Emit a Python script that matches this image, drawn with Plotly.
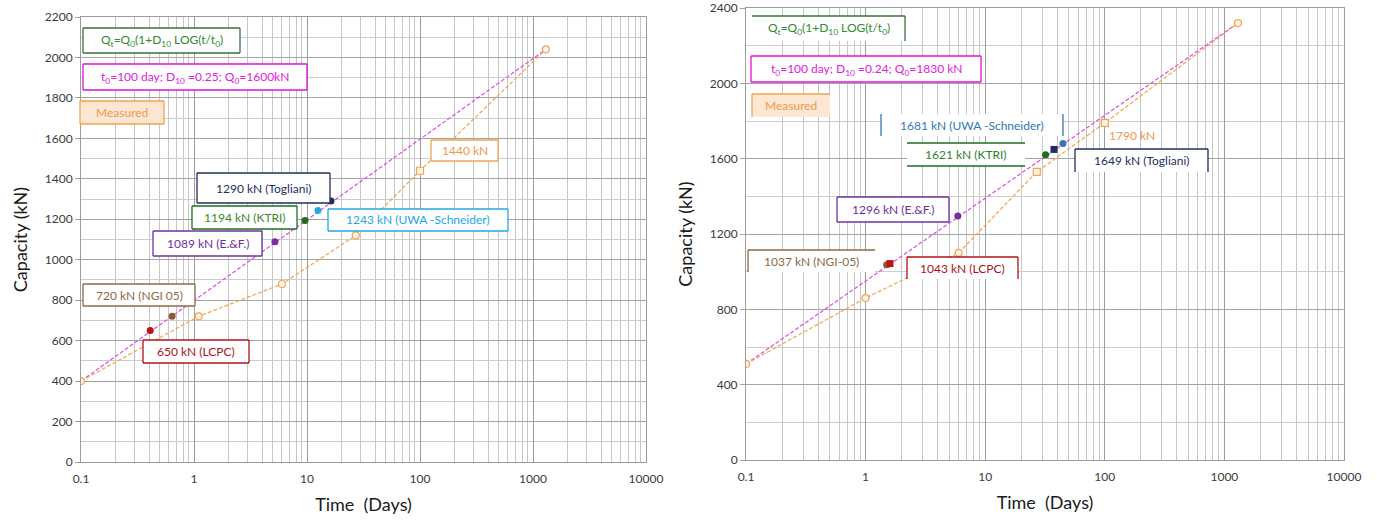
import plotly.graph_objects as go

W, H = 1377, 521

# ---------------- data ----------------
tick_vals = [0.1, 1, 10, 100, 1000, 10000]
tick_text = ["0.1", "1", "10", "100", "1000", "10000"]

# left chart
L_meas_t = [0.1, 1.1, 6, 27, 100, 1300]
L_meas_q = [400, 720, 880, 1120, 1440, 2040]
L_fit_t = [0.1, 1300]
L_fit_q = [400, 2040]
L_methods = ["LCPC", "NGI 05", "E.&F.", "KTRI", "UWA -Schneider", "Togliani"]
L_method_t = [0.41, 0.64, 5.2, 9.6, 12.5, 16.3]
L_method_q = [650, 720, 1089, 1194, 1243, 1290]
L_formula = "Q<sub>t</sub>=Q<sub>0</sub>(1+D<sub>10</sub> LOG(t/t<sub>0</sub>)"
L_params = "t<sub>0</sub>=100 day; D<sub>10</sub> =0.25; Q<sub>0</sub>=1600kN"

# right chart
R_meas_t = [0.1, 1, 6, 27, 100, 1300]
R_meas_q = [510, 860, 1100, 1530, 1790, 2320]
R_fit_t = [0.1, 1300]
R_fit_q = [510, 2320]
R_methods = ["NGI-05", "LCPC", "E.&F.", "KTRI", "Togliani", "UWA -Schneider"]
R_method_t = [1.5, 1.6, 5.9, 32, 37.6, 44.7]
R_method_q = [1037, 1043, 1296, 1621, 1649, 1681]
R_formula = "Q<sub>t</sub>=Q<sub>0</sub>(1+D<sub>10</sub> LOG(t/t<sub>0</sub>)"
R_params = "t<sub>0</sub>=100 day; D<sub>10</sub> =0.24; Q<sub>0</sub>=1830 kN"

# ---------------- styles ----------------
FONT = "Lato"
PINK = "#E24CE2"
ORANGE = "#F2A552"
ORANGE_TXT = "#EE9A50"
method_color = {
    "LCPC": "#C0101A", "NGI 05": "#8E5A34", "NGI-05": "#8E5A34",
    "E.&F.": "#7030A0", "KTRI": "#1E6E1E",
    "Togliani": "#1F2E5C",
}
uwa_color = {"L": "#22A6E6", "R": "#2E78B8"}
method_symbol_R = {"LCPC": "square", "Togliani": "square"}

fig = go.Figure()

def add_panel(xa, ya, mt, mq, ft, fq, methods, m_t, m_q, side):
    fig.add_trace(go.Scatter(x=ft, y=fq, mode="lines", xaxis=xa, yaxis=ya,
                             line=dict(color=PINK, width=1.2, dash="4px,2px"),
                             hoverinfo="skip"))
    sym = ["square" if t == 100 or (side == "R" and t == 27) else "circle" for t in mt]
    fig.add_trace(go.Scatter(x=mt, y=mq, mode="lines+markers", xaxis=xa, yaxis=ya,
                             line=dict(color=ORANGE, width=1.2, dash="4px,2px"),
                             marker=dict(symbol=sym, size=7, color="#FFF4E6",
                                         line=dict(color=ORANGE, width=1.2))))
    for name, t, q in zip(methods, m_t, m_q):
        c = uwa_color[side] if name.startswith("UWA") else method_color[name]
        s = method_symbol_R.get(name, "circle") if side == "R" else "circle"
        fig.add_trace(go.Scatter(x=[t], y=[q], mode="markers", xaxis=xa, yaxis=ya,
                                 marker=dict(symbol=s, size=7, color=c),
                                 name=name))

add_panel("x", "y", L_meas_t, L_meas_q, L_fit_t, L_fit_q,
          L_methods, L_method_t, L_method_q, "L")
add_panel("x2", "y2", R_meas_t, R_meas_q, R_fit_t, R_fit_q,
          R_methods, R_method_t, R_method_q, "R")

# ---------------- label boxes (pixel layout) ----------------
shapes = []
annotations = []

def box(l, t, r, b, text, color, txtcolor=None, fill="white", sides="tlbr", size=12):
    x0, x1 = l / W, r / W
    y0, y1 = 1 - b / H, 1 - t / H
    shapes.append(dict(type="rect", xref="paper", yref="paper", x0=x0, x1=x1,
                       y0=y0, y1=y1, fillcolor=fill, line=dict(width=0),
                       layer="above"))
    seg = {"t": (x0, y1, x1, y1), "b": (x0, y0, x1, y0),
           "l": (x0, y0, x0, y1), "r": (x1, y0, x1, y1)}
    for s in sides:
        a, bb, c, d = seg[s]
        shapes.append(dict(type="line", xref="paper", yref="paper", x0=a, y0=bb,
                           x1=c, y1=d, line=dict(color=color, width=1.3),
                           layer="above"))
    annotations.append(dict(xref="paper", yref="paper", x=(l + r) / 2 / W,
                            y=1 - (t + b) / 2 / H, text=text, showarrow=False,
                            xanchor="center", yanchor="middle",
                            font=dict(family=FONT, size=size,
                                      color=txtcolor or color)))

def lbl(name, q):
    return f"{q} kN ({name})"

Lq = dict(zip(L_methods, L_method_q))
Rq = dict(zip(R_methods, R_method_q))

# left panel
box(83, 28, 240, 53, L_formula, "#3B713B", "#2E8B2E")
box(83, 64, 307, 90, L_params, "#E010E0", "#E020E0")
box(80, 101, 164, 124, "Measured", ORANGE, ORANGE_TXT, fill="#FDE6D2")
box(197, 173, 330, 203, lbl("Togliani", Lq["Togliani"]), "#1F2E5C")
box(192, 206, 297, 229, lbl("KTRI", Lq["KTRI"]), "#1E6E1E", "#3A8A2A")
box(153, 231, 262, 256, lbl("E.&F.", Lq["E.&F."]), "#7030A0")
box(328, 209, 508, 231, lbl("UWA -Schneider", Lq["UWA -Schneider"]), uwa_color["L"])
box(431, 140, 498, 161, f"{L_meas_q[4]} kN", ORANGE, ORANGE_TXT)
box(83, 284, 195, 306, lbl("NGI 05", Lq["NGI 05"]), "#8E6A44", "#8B6A4A")
box(143, 340, 249, 363, lbl("LCPC", Lq["LCPC"]), "#B0101A")

# right panel
box(752, 16, 905, 41, R_formula, "#3B713B", "#2E8B2E", sides="tr")
box(751, 56, 981, 82, R_params, "#E010E0", "#E020E0")
box(752, 94, 830, 117, "Measured", ORANGE, ORANGE_TXT, fill="#FDE6D2", sides="tl")
box(881, 114, 1063, 136, lbl("UWA -Schneider", Rq["UWA -Schneider"]), uwa_color["R"], sides="lr")
box(907, 143, 1025, 166, lbl("KTRI", Rq["KTRI"]), "#1E6E1E", "#2F7F2F", sides="tb")
box(1075, 149, 1208, 172, lbl("Togliani", Rq["Togliani"]), "#1F2E5C", sides="ltr")
box(837, 197, 949, 222, lbl("E.&F.", Rq["E.&F."]), "#7030A0")
box(748, 250, 875, 272, lbl("NGI-05", Rq["NGI-05"]), "#8E6A44", "#8B6A4A", sides="tl")
box(907, 257, 1018, 279, lbl("LCPC", Rq["LCPC"]), "#B0101A", sides="tlr")
annotations.append(dict(xref="paper", yref="paper", x=1157 / W, y=1 - 126 / H,
                        text=f"{R_meas_q[4]} kN", showarrow=False,
                        font=dict(family=FONT, size=12, color=ORANGE_TXT)))

# ---------------- axes ----------------
tickfont = dict(family=FONT, size=12, color="#3A3A3A")
titlefont = dict(family=FONT, size=18, color="#1A1A1A")

def xaxis_def(dom, anchor):
    return dict(type="log", range=[-1, 4], domain=dom, anchor=anchor,
                tickvals=tick_vals, ticktext=tick_text, tickfont=tickfont,
                showgrid=True, gridcolor="#9C9C9C", gridwidth=1,
                minor=dict(dtick="D1", showgrid=True, gridcolor="#C6C6C6",
                           gridwidth=1),
                showline=True, linecolor="#9C9C9C", mirror=True,
                zeroline=False, ticks="outside", ticklen=6,
                tickcolor="rgba(0,0,0,0)", automargin=False,
                title=dict(text="Time  (Days)", font=titlefont, standoff=12))

def yaxis_def(dom, anchor, top, step, mstep):
    return dict(range=[0, top], domain=dom, anchor=anchor, dtick=step,
                tickfont=tickfont, showgrid=True, gridcolor="#A4A4A4",
                minor=dict(dtick=mstep, showgrid=True, gridcolor="#CDCDCD"),
                showline=True, linecolor="#9C9C9C", mirror=True,
                zeroline=False, ticks="outside", ticklen=5, tickcolor="#A4A4A4",
                automargin=False,
                title=dict(text="Capacity (kN)", font=titlefont, standoff=12))

fig.update_layout(
    width=W, height=H,
    margin=dict(l=0, r=0, t=0, b=0),
    paper_bgcolor="white", plot_bgcolor="white",
    showlegend=False,
    xaxis=xaxis_def([81 / W, 646 / W], "y"),
    yaxis=yaxis_def([1 - 462 / H, 1 - 17 / H], "x", 2200, 200, 100),
    xaxis2=xaxis_def([746 / W, 1344 / W], "y2"),
    yaxis2=yaxis_def([1 - 460 / H, 1 - 8 / H], "x2", 2400, 400, 200),
    shapes=shapes,
    annotations=annotations,
)

fig.write_html("out.html", config={"displayModeBar": False},
               post_script="document.body.style.margin='0';")
